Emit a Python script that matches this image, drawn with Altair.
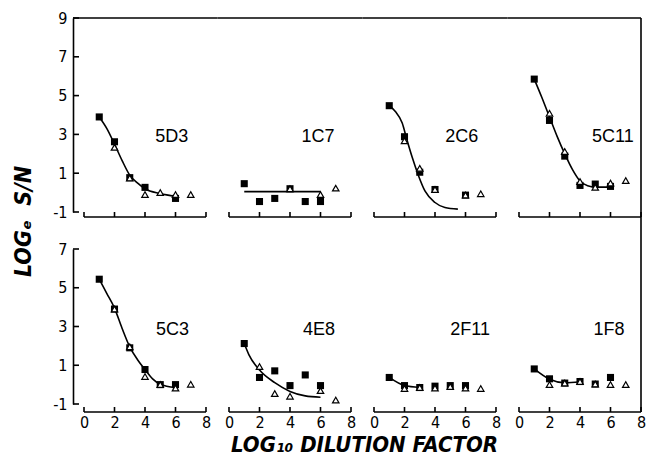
import altair as alt
import pandas as pd

# ---------------- data ----------------
names = ["5D3", "1C7", "2C6", "5C11", "5C3", "4E8", "2F11", "1F8"]

x_ticks = [0, 2, 4, 6, 8]
y_ticks_top = [-1, 1, 3, 5, 7, 9]
y_ticks_bot = [-1, 1, 3, 5, 7]

# filled squares
sq_x = {
    "5D3": [1, 2, 3, 4, 6],
    "1C7": [1, 2, 3, 4, 5, 6],
    "2C6": [1, 2, 3, 4, 6],
    "5C11": [1, 2, 3, 4, 5, 6],
    "5C3": [1, 2, 3, 4, 5, 6],
    "4E8": [1, 2, 3, 4, 5, 6],
    "2F11": [1, 2, 3, 4, 5, 6],
    "1F8": [1, 2, 3, 4, 5, 6],
}
sq_y = {
    "5D3": [3.9, 2.62, 0.77, 0.27, -0.3],
    "1C7": [0.46, -0.46, -0.3, 0.2, -0.46, -0.46],
    "2C6": [4.48, 2.88, 1.05, 0.16, -0.13],
    "5C11": [5.85, 3.72, 1.88, 0.37, 0.44, 0.32],
    "5C3": [5.44, 3.9, 1.9, 0.78, 0.0, 0.0],
    "4E8": [2.12, 0.37, 0.71, -0.05, 0.5, -0.05],
    "2F11": [0.37, -0.05, -0.15, -0.08, -0.05, -0.05],
    "1F8": [0.81, 0.3, 0.08, 0.16, 0.03, 0.37],
}

# open triangles
tri_x = {
    "5D3": [2, 3, 4, 5, 6, 7],
    "1C7": [4, 6, 7],
    "2C6": [2, 3, 4, 6, 7],
    "5C11": [2, 3, 4, 5, 6, 7],
    "5C3": [2, 3, 4, 5, 6, 7],
    "4E8": [2, 3, 4, 6, 7],
    "2F11": [2, 3, 4, 5, 6, 7],
    "1F8": [2, 3, 4, 5, 6, 7],
}
tri_y = {
    "5D3": [2.33, 0.75, -0.1, 0.0, -0.1, -0.1],
    "1C7": [0.2, -0.1, 0.23],
    "2C6": [2.67, 1.25, 0.16, -0.13, -0.06],
    "5C11": [4.09, 2.12, 0.57, 0.27, 0.49, 0.62],
    "5C3": [3.9, 1.95, 0.42, 0.0, -0.18, 0.02],
    "4E8": [0.93, -0.46, -0.6, -0.31, -0.8],
    "2F11": [-0.2, -0.15, -0.18, -0.1, -0.18, -0.2],
    "1F8": [0.0, 0.08, 0.16, 0.03, 0.0, 0.0],
}

# fitted curves
cur_x = {
    "5D3": [1, 1.5, 2, 2.5, 3, 3.5, 4, 5, 6],
    "1C7": [1, 6],
    "2C6": [1, 1.4, 1.85, 2.15, 2.5, 2.9, 3.35, 4.0, 4.65, 5.5],
    "5C11": [1, 1.5, 2, 2.5, 3, 3.5, 4, 4.5, 5, 6],
    "5C3": [1, 1.5, 2, 2.5, 3, 3.5, 4, 4.5, 5, 6],
    "4E8": [1, 1.3, 2, 3, 4, 5, 6],
    "2F11": [1, 2, 3],
    "1F8": [1, 2, 3, 4],
}
cur_y = {
    "5D3": [3.9, 3.3, 2.5, 1.65, 0.9, 0.5, 0.2, -0.05, -0.2],
    "1C7": [0.05, 0.05],
    "2C6": [4.48, 4.18, 3.59, 2.75, 1.83, 0.91, 0.07, -0.51, -0.77, -0.85],
    "5C11": [5.85, 4.9, 3.9, 2.9, 2.0, 1.2, 0.6, 0.35, 0.28, 0.28],
    "5C3": [5.45, 4.7, 3.95, 2.9, 1.95, 1.3, 0.78, 0.3, 0.02, -0.15],
    "4E8": [2.12, 1.55, 0.75, 0.1, -0.35, -0.58, -0.65],
    "2F11": [0.37, -0.05, -0.15],
    "1F8": [0.81, 0.28, 0.1, 0.15],
}

# panel label anchor (data coordinates)
lab_x = [5.75, 5.84, 5.75, 6.15, 5.8, 5.9, 6.3, 5.9]
lab_y = [2.87, 2.87, 2.87, 2.87, 2.8, 2.8, 2.8, 2.8]

y_title = "LOG\u2091\u00a0\u00a0S/N"
x_title = "LOG\u2081\u2080\u00a0DILUTION FACTOR"

# ---------------- styling / layout ----------------
NARROW = "'Liberation Sans Narrow', 'DejaVu Sans Condensed', 'Liberation Sans', sans-serif"
PLAIN = "'Liberation Sans', 'DejaVu Sans', sans-serif"
W = 122
HT = 194
HB = 155
GAP_COL = 23
GAP_ROW = 37
YOFF = 11
LW = 1.6
PAD_L, PAD_T = 76, 10
SVG_W, SVG_H = 639, 449


def make_panel(i):
    name = names[i]
    row, col = divmod(i, 4)
    H = HT if row == 0 else HB
    yt = y_ticks_top if row == 0 else y_ticks_bot
    boff = 5 if row == 0 else 8

    xsc = alt.Scale(domain=[x_ticks[0], x_ticks[-1]], nice=False, zero=False)
    ysc = alt.Scale(domain=[yt[0], yt[-1]], nice=False, zero=False)

    if row == 1:
        ax_kw = dict(values=x_ticks, domain=False, ticks=False, tickSize=0, grid=False,
                     offset=boff, labelPadding=2, labelFont=NARROW, labelFontSize=16,
                     labelColor="black", labelAngle=0, labelFlush=False)
        if col == 1:
            ax_kw.update(title=x_title, titleX=135, titleY=39, titleAlign="center",
                         titleBaseline="alphabetic", titleFont=NARROW, titleFontSize=22,
                         titleFontStyle="italic", titleFontWeight="bold", titleColor="black")
        else:
            ax_kw.update(title=None)
        xaxis = alt.Axis(**ax_kw)
    else:
        xaxis = None

    if col == 0:
        ay_kw = dict(values=yt, domain=True, domainColor="black", domainWidth=LW,
                     ticks=False, tickSize=0, grid=False, offset=YOFF, labelPadding=6,
                     labelFont=NARROW, labelFontSize=16, labelColor="black",
                     labelExpr="datum.value + ''", labelFlush=False)
        if row == 0:
            ay_kw.update(title=y_title, titleX=-50, titleY=203, titleAngle=270,
                         titleAlign="center", titleBaseline="middle", titleFont=NARROW,
                         titleFontSize=23, titleFontStyle="italic", titleFontWeight="bold",
                         titleColor="black")
        else:
            ay_kw.update(title=None)
        yaxis = alt.Axis(**ay_kw)
    else:
        yaxis = None

    def X(f):
        return alt.X(f, type="quantitative", scale=xsc, axis=xaxis)

    def Y(f):
        return alt.Y(f, type="quantitative", scale=ysc, axis=yaxis)

    sq = pd.DataFrame({"x": sq_x[name], "y": sq_y[name]})
    tri = pd.DataFrame({"x": tri_x[name], "y": tri_y[name]})
    cur = pd.DataFrame({"x": cur_x[name], "y": cur_y[name]})
    lab = pd.DataFrame({"x": [lab_x[i]], "y": [lab_y[i]], "t": [name]})
    base = pd.DataFrame({"x": [x_ticks[0]], "x2": [x_ticks[-1]]})
    xt = pd.DataFrame({"x": x_ticks})
    yt_df = pd.DataFrame({"y": yt})
    one = pd.DataFrame({"k": [0]})

    layers = [
        alt.Chart(cur).mark_line(color="black", strokeWidth=LW, interpolate="monotone")
        .encode(x=X("x"), y=Y("y")),
        alt.Chart(sq).mark_point(shape="square", filled=True, color="black", size=50, opacity=1)
        .encode(x=X("x"), y=Y("y")),
        alt.Chart(tri).mark_point(shape="triangle-up", filled=True, fill="white", stroke="black",
                                  strokeWidth=1.2, size=42, opacity=1)
        .encode(x=X("x"), y=Y("y")),
        alt.Chart(lab).mark_text(font=PLAIN, fontSize=18, color="black", align="center",
                                 baseline="middle")
        .encode(x=X("x"), y=Y("y"), text="t:N"),
        alt.Chart(base).mark_rule(color="black", strokeWidth=LW)
        .encode(x=X("x"), x2="x2:Q", y=alt.value(H + boff)),
        alt.Chart(xt).mark_rule(color="black", strokeWidth=LW)
        .encode(x=X("x"), y=alt.value(H + boff), y2=alt.value(H + boff - 5)),
    ]
    if col == 0:
        layers.append(
            alt.Chart(yt_df).mark_rule(color="black", strokeWidth=LW)
            .encode(y=Y("y"), x=alt.value(-YOFF), x2=alt.value(-YOFF + 6))
        )
    if row == 0:
        x0 = -YOFF if col == 0 else -GAP_COL / 2
        x1 = W if col == 3 else W + GAP_COL / 2
        layers.append(
            alt.Chart(one).mark_rule(color="black", strokeWidth=LW)
            .encode(y=alt.value(0), x=alt.value(x0), x2=alt.value(x1))
        )
    if col == 3:
        y1 = H + GAP_ROW if row == 0 else H + boff
        layers.append(
            alt.Chart(one).mark_rule(color="black", strokeWidth=LW)
            .encode(x=alt.value(W), y=alt.value(0), y2=alt.value(y1))
        )
    return alt.layer(*layers).properties(width=W, height=H)


panels = [make_panel(i) for i in range(8)]

chart = alt.ConcatChart(
    concat=panels,
    columns=4,
    spacing={"row": GAP_ROW, "column": GAP_COL},
    bounds="flush",
).properties(
    autosize=alt.AutoSizeParams(type="none"),
    padding={"left": PAD_L, "top": PAD_T, "right": SVG_W - PAD_L, "bottom": SVG_H - PAD_T},
    background="white",
).configure_view(stroke=None)

chart.save("out.html", embed_options={"renderer": "svg", "actions": False})
